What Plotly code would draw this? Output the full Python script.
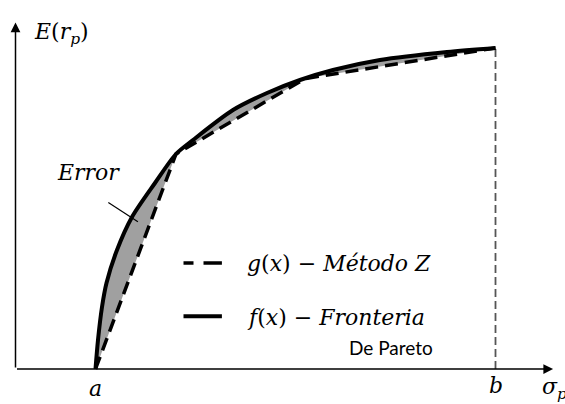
import plotly.graph_objects as go

# Frontier curve f(x) (sigma, E)
curve_x = [1.0, 1.03125, 1.08125, 1.1375, 1.26875, 1.45625, 1.74375, 2.00625, 2.21875, 2.71875,
           3.14375, 3.55625, 3.96875, 4.55625, 5.39375, 6.0]
curve_y = [0.0, 0.3625, 0.775, 1.075, 1.4875, 1.90, 2.325, 2.6875, 2.8625, 3.2375,
           3.45, 3.6125, 3.7375, 3.8625, 3.9625, 4.0125]

# Piecewise-linear approximation g(x) (Método Z) nodes
approx_x = [1.0, 2.00625, 3.62, 6.0]
approx_y = [0.0, 2.6875, 3.63, 4.0125]

a_val = 1.0
b_val = 6.0

fig = go.Figure()

# gray error region
fig.add_trace(go.Scatter(
    x=curve_x + approx_x[::-1], y=curve_y + approx_y[::-1],
    fill="toself", fillcolor="#a0a0a0", mode="none", hoverinfo="skip", showlegend=False))

# vertical dashed at b
fig.add_trace(go.Scatter(x=[b_val, b_val], y=[0, curve_y[-1]], mode="lines",
                         line=dict(color="#555555", width=1.8, dash="8px,4px"), showlegend=False))

# dashed approximation
fig.add_trace(go.Scatter(x=approx_x, y=approx_y, mode="lines",
                         line=dict(color="black", width=3.5, dash="13px,7px"), showlegend=False))
# frontier curve
fig.add_trace(go.Scatter(x=curve_x, y=curve_y, mode="lines", line_shape="spline",
                         line=dict(color="black", width=4, smoothing=0.8), showlegend=False))

# legend samples
fig.add_trace(go.Scatter(x=[2.10, 2.58], y=[1.325, 1.325], mode="lines",
                         line=dict(color="black", width=3.5, dash="10px,10px,19px,10px"), showlegend=False))
fig.add_trace(go.Scatter(x=[2.10, 2.58], y=[0.66, 0.66], mode="lines",
                         line=dict(color="black", width=4), showlegend=False))

# axes arrows
fig.add_annotation(x=6.72, y=0, ax=0, ay=0, xref="x", yref="y", axref="x", ayref="y",
                   showarrow=True, arrowhead=2, arrowsize=1.3, arrowwidth=1.5, arrowcolor="black", text="")
fig.add_annotation(x=0, y=4.33, ax=0, ay=0, xref="x", yref="y", axref="x", ayref="y",
                   showarrow=True, arrowhead=2, arrowsize=1.3, arrowwidth=1.5, arrowcolor="black", text="")

serif = dict(family="DejaVu Serif", size=22, color="black")
sans = dict(family="Lato", size=19, color="black")

fig.add_annotation(x=0.2, y=4.2, text="<i>E</i>(<i>r<sub>p</sub></i>)", showarrow=False,
                   xanchor="left", yanchor="middle", font=serif)
fig.add_annotation(x=a_val, y=-0.24, text="<i>a</i>", showarrow=False, font=serif)
fig.add_annotation(x=b_val, y=-0.2, text="<i>b</i>", showarrow=False, font=serif)
fig.add_annotation(x=6.55, y=-0.24, text="<i>σ<sub>p</sub></i>", showarrow=False,
                   xanchor="left", font=serif)
fig.add_annotation(x=0.49, y=2.46, text="<i>Error</i>", showarrow=False, xanchor="left", font=serif)
fig.add_shape(type="line", x0=1.16, y0=2.08, x1=1.53, y1=1.84, line=dict(color="black", width=1.2))

fig.add_annotation(x=2.87, y=1.32, text="<i>g</i>(<i>x</i>) − <i>Método Z</i>", showarrow=False,
                   xanchor="left", font=serif)
fig.add_annotation(x=2.87, y=0.64, text="<i>f</i>(<i>x</i>) − <i>Fronteria</i>", showarrow=False,
                   xanchor="left", font=serif)
fig.add_annotation(x=4.14, y=0.27, text="De Pareto", showarrow=False, xanchor="left", font=sans)

fig.update_layout(
    width=565, height=404, margin=dict(l=0, r=0, t=0, b=0),
    paper_bgcolor="white", plot_bgcolor="white",
    xaxis=dict(range=[-15.5/80, (565-15.5)/80], visible=False, fixedrange=True),
    yaxis=dict(range=[-35/80, 369/80], visible=False, fixedrange=True),
    showlegend=False,
)

fig.write_html("out.html", config={"displayModeBar": False},
               post_script="document.body.style.margin='0';document.body.style.overflow='hidden';")
